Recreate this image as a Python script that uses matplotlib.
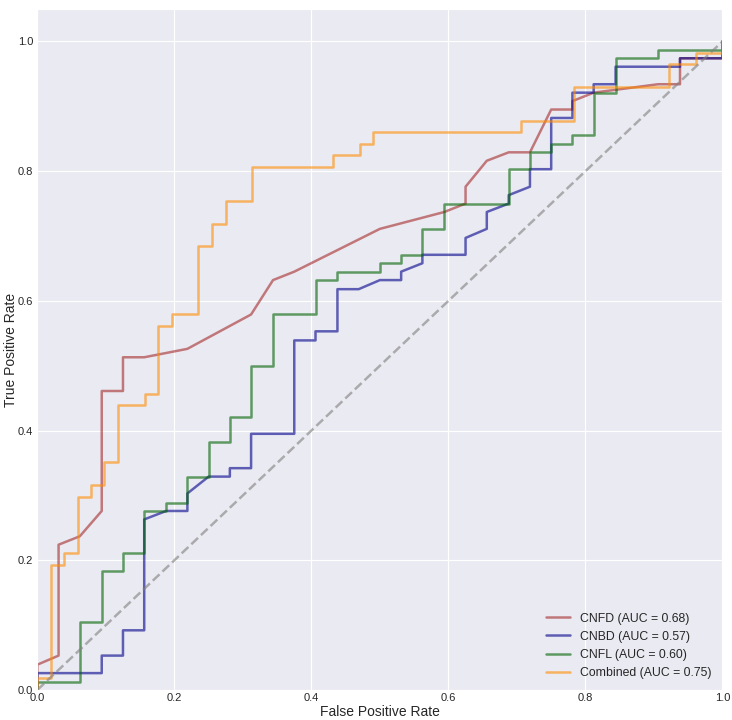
import matplotlib
matplotlib.use("Agg")
import matplotlib.pyplot as plt
import seaborn as sns

# ROC curve points
fpr_cnfd = [0, 0, 0.031, 0.031, 0.062, 0.094, 0.094, 0.125, 0.125, 0.156, 0.219, 0.312,
            0.344, 0.375, 0.5, 0.594, 0.625, 0.625, 0.656, 0.688, 0.719, 0.75, 0.781,
            0.781, 0.812, 0.906, 0.938, 0.938, 1.0, 1.0]
tpr_cnfd = [0, 0.039, 0.053, 0.224, 0.237, 0.276, 0.461, 0.461, 0.513, 0.513, 0.526, 0.579,
            0.632, 0.645, 0.711, 0.737, 0.750, 0.776, 0.816, 0.829, 0.829, 0.895, 0.895,
            0.908, 0.921, 0.934, 0.934, 0.974, 0.974, 1.0]

fpr_cnbd = [0, 0, 0.094, 0.094, 0.125, 0.125, 0.156, 0.156, 0.188, 0.219, 0.219, 0.25,
            0.281, 0.281, 0.312, 0.312, 0.375, 0.375, 0.406, 0.406, 0.438, 0.438, 0.469,
            0.5, 0.531, 0.531, 0.562, 0.562, 0.625, 0.625, 0.656, 0.656, 0.688, 0.688,
            0.719, 0.719, 0.75, 0.75, 0.781, 0.781, 0.812, 0.812, 0.844, 0.844, 0.938,
            0.938, 1.0, 1.0]
tpr_cnbd = [0, 0.026, 0.026, 0.053, 0.053, 0.092, 0.092, 0.263, 0.276, 0.276, 0.303, 0.329,
            0.329, 0.342, 0.342, 0.395, 0.395, 0.539, 0.539, 0.553, 0.553, 0.618, 0.618,
            0.632, 0.632, 0.645, 0.658, 0.671, 0.671, 0.697, 0.711, 0.737, 0.750, 0.763,
            0.776, 0.803, 0.803, 0.882, 0.882, 0.921, 0.921, 0.934, 0.934, 0.961, 0.961,
            0.974, 0.974, 1.0]

fpr_cnfl = [0, 0, 0.062, 0.062, 0.094, 0.094, 0.125, 0.125, 0.156, 0.156, 0.188, 0.188,
            0.219, 0.219, 0.25, 0.25, 0.281, 0.281, 0.312, 0.312, 0.344, 0.344, 0.406,
            0.406, 0.438, 0.438, 0.5, 0.5, 0.531, 0.531, 0.562, 0.562, 0.594, 0.594,
            0.688, 0.688, 0.719, 0.719, 0.75, 0.75, 0.781, 0.781, 0.812, 0.812, 0.844,
            0.844, 0.906, 0.906, 1.0, 1.0]
tpr_cnfl = [0, 0.013, 0.013, 0.105, 0.105, 0.184, 0.184, 0.211, 0.211, 0.276, 0.276, 0.289,
            0.289, 0.329, 0.329, 0.382, 0.382, 0.421, 0.421, 0.5, 0.5, 0.579, 0.579,
            0.632, 0.632, 0.645, 0.645, 0.658, 0.658, 0.671, 0.671, 0.711, 0.711, 0.750,
            0.750, 0.803, 0.803, 0.829, 0.829, 0.842, 0.842, 0.855, 0.855, 0.921, 0.921,
            0.974, 0.974, 0.987, 0.987, 1.0]

fpr_comb = [0, 0, 0.02, 0.02, 0.039, 0.039, 0.059, 0.059, 0.078, 0.078, 0.098, 0.098,
            0.118, 0.118, 0.157, 0.157, 0.176, 0.176, 0.196, 0.196, 0.235, 0.235, 0.255,
            0.255, 0.275, 0.275, 0.314, 0.314, 0.431, 0.431, 0.471, 0.471, 0.490, 0.490,
            0.706, 0.706, 0.784, 0.784, 0.922, 0.922, 0.961, 0.961, 1.0, 1.0]
tpr_comb = [0, 0.018, 0.018, 0.193, 0.193, 0.211, 0.211, 0.298, 0.298, 0.316, 0.316, 0.351,
            0.351, 0.439, 0.439, 0.456, 0.456, 0.561, 0.561, 0.579, 0.579, 0.684, 0.684,
            0.719, 0.719, 0.754, 0.754, 0.807, 0.807, 0.825, 0.825, 0.842, 0.842, 0.860,
            0.860, 0.877, 0.877, 0.930, 0.930, 0.965, 0.965, 0.982, 0.982, 1.0]

names = ["CNFD", "CNBD", "CNFL", "Combined"]
aucs = [0.68, 0.57, 0.60, 0.75]
colors = ["brown", "darkblue", "darkgreen", "darkorange"]

sns.set_style("darkgrid")
plt.rcParams["font.family"] = ["Liberation Sans", "DejaVu Sans"]

fig, ax = plt.subplots(figsize=(7.32, 7.2), dpi=100)
fig.subplots_adjust(left=0.051, right=0.987, bottom=0.0417, top=0.9875)

curves = [(fpr_cnfd, tpr_cnfd), (fpr_cnbd, tpr_cnbd), (fpr_cnfl, tpr_cnfl), (fpr_comb, tpr_comb)]
for (fpr, tpr), name, auc, col in zip(curves, names, aucs, colors):
    ax.plot(fpr, tpr, color=col, lw=1.8, alpha=0.6, label=f"{name} (AUC = {auc:.2f})")

# chance line
ax.plot([0, 1], [0, 1], color="gray", lw=1.8, linestyle="--", alpha=0.6)

ax.set_xlim(0, 1)
ax.set_ylim(0, 1.05)
ax.set_xticks([0, 0.2, 0.4, 0.6, 0.8, 1.0])
ax.set_yticks([0, 0.2, 0.4, 0.6, 0.8, 1.0])
ax.tick_params(axis="both", length=0, labelsize=8)
ax.tick_params(axis="x", pad=2.5)
ax.tick_params(axis="y", pad=3)
ax.set_xlabel("False Positive Rate", fontsize=10, labelpad=1.2)
ax.set_ylabel("True Positive Rate", fontsize=10, labelpad=0)
ax.legend(loc="lower right", fontsize=8.8, frameon=False)

plt.savefig("out.png", dpi=100)
